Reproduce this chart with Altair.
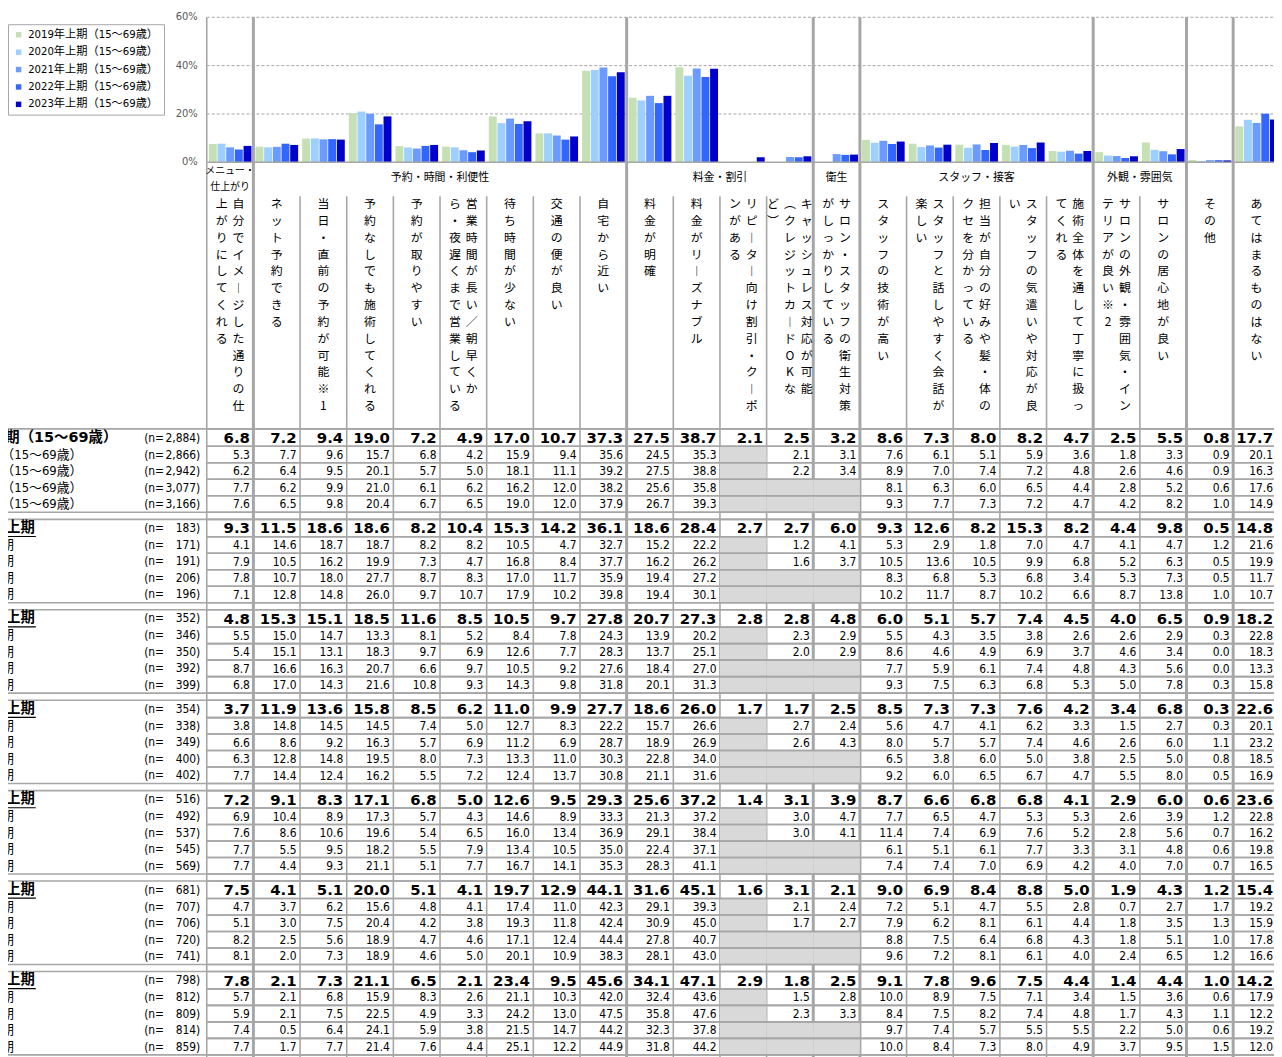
import altair as alt
import pandas as pd

# ---------------- data ----------------
years = ["2019年上期（15～69歳）", "2020年上期（15～69歳）", "2021年上期（15～69歳）",
         "2022年上期（15～69歳）", "2023年上期（15～69歳）"]
bar_colors = ["#c5e0b4", "#9dcfff", "#6b9bff", "#3366ff", "#0000cc"]

cat_lines = [
    ["自分でイメージした通りの仕", "上がりにしてくれる"],
    ["ネット予約できる"],
    ["当日・直前の予約が可能※1"],
    ["予約なしでも施術してくれる"],
    ["予約が取りやすい"],
    ["営業時間が長い／朝早くか", "ら・夜遅くまで営業している"],
    ["待ち時間が少ない"],
    ["交通の便が良い"],
    ["自宅から近い"],
    ["料金が明確"],
    ["料金がリーズナブル"],
    ["リピーター向け割引・クーポ", "ンがある"],
    ["キャッシュレス対応が可能", "（クレジットカードOKな", "ど）"],
    ["サロン・スタッフの衛生対策", "がしっかりしている"],
    ["スタッフの技術が高い"],
    ["スタッフと話しやすく会話が", "楽しい"],
    ["担当が自分の好みや髪・体の", "クセを分かっている"],
    ["スタッフの気遣いや対応が良", "い"],
    ["施術全体を通して丁寧に扱っ", "てくれる"],
    ["サロンの外観・雰囲気・イン", "テリアが良い※2"],
    ["サロンの居心地が良い"],
    ["その他"],
    ["あてはまるものはない"],
]

group_labels = [["メニュー・", "仕上がり"], ["予約・時間・利便性"], ["料金・割引"], ["衛生"],
                ["スタッフ・接客"], ["外観・雰囲気"]]
group_start = [0, 1, 9, 13, 14, 19]
group_end = [1, 9, 13, 14, 19, 21]
group_seps = [1, 9, 13, 14, 19, 21, 22]

age_labels = ["", "15～19歳", "20～29歳", "30～39歳", "40～49歳", "50～59歳", "60～69歳"]
row_years = [2023, 2022, 2021, 2020, 2019]
n_values = [
    [2884, 2866, 2942, 3077, 3166],
    [183, 171, 191, 206, 196],
    [352, 346, 350, 392, 399],
    [354, 338, 349, 400, 402],
    [516, 492, 537, 545, 569],
    [681, 707, 706, 720, 741],
    [798, 812, 809, 814, 859],
]
N = None
blocks = [
    [
        [6.8, 7.2, 9.4, 19.0, 7.2, 4.9, 17.0, 10.7, 37.3, 27.5, 38.7, 2.1, 2.5, 3.2, 8.6, 7.3, 8.0, 8.2, 4.7, 2.5, 5.5, 0.8, 17.7],
        [5.3, 7.7, 9.6, 15.7, 6.8, 4.2, 15.9, 9.4, 35.6, 24.5, 35.3, N, 2.1, 3.1, 7.6, 6.1, 5.1, 5.9, 3.6, 1.8, 3.3, 0.9, 20.1],
        [6.2, 6.4, 9.5, 20.1, 5.7, 5.0, 18.1, 11.1, 39.2, 27.5, 38.8, N, 2.2, 3.4, 8.9, 7.0, 7.4, 7.2, 4.8, 2.6, 4.6, 0.9, 16.3],
        [7.7, 6.2, 9.9, 21.0, 6.1, 6.2, 16.2, 12.0, 38.2, 25.6, 35.8, N, N, N, 8.1, 6.3, 6.0, 6.5, 4.4, 2.8, 5.2, 0.6, 17.6],
        [7.6, 6.5, 9.8, 20.4, 6.7, 6.5, 19.0, 12.0, 37.9, 26.7, 39.3, N, N, N, 9.3, 7.7, 7.3, 7.2, 4.7, 4.2, 8.2, 1.0, 14.9],
    ],
    [
        [9.3, 11.5, 18.6, 18.6, 8.2, 10.4, 15.3, 14.2, 36.1, 18.6, 28.4, 2.7, 2.7, 6.0, 9.3, 12.6, 8.2, 15.3, 8.2, 4.4, 9.8, 0.5, 14.8],
        [4.1, 14.6, 18.7, 18.7, 8.2, 8.2, 10.5, 4.7, 32.7, 15.2, 22.2, N, 1.2, 4.1, 5.3, 2.9, 1.8, 7.0, 4.7, 4.1, 4.7, 1.2, 21.6],
        [7.9, 10.5, 16.2, 19.9, 7.3, 4.7, 16.8, 8.4, 37.7, 16.2, 26.2, N, 1.6, 3.7, 10.5, 13.6, 10.5, 9.9, 6.8, 5.2, 6.3, 0.5, 19.9],
        [7.8, 10.7, 18.0, 27.7, 8.7, 8.3, 17.0, 11.7, 35.9, 19.4, 27.2, N, N, N, 8.3, 6.8, 5.3, 6.8, 3.4, 5.3, 7.3, 0.5, 11.7],
        [7.1, 12.8, 14.8, 26.0, 9.7, 10.7, 17.9, 10.2, 39.8, 19.4, 30.1, N, N, N, 10.2, 11.7, 8.7, 10.2, 6.6, 8.7, 13.8, 1.0, 10.7],
    ],
    [
        [4.8, 15.3, 15.1, 18.5, 11.6, 8.5, 10.5, 9.7, 27.8, 20.7, 27.3, 2.8, 2.8, 4.8, 6.0, 5.1, 5.7, 7.4, 4.5, 4.0, 6.5, 0.9, 18.2],
        [5.5, 15.0, 14.7, 13.3, 8.1, 5.2, 8.4, 7.8, 24.3, 13.9, 20.2, N, 2.3, 2.9, 5.5, 4.3, 3.5, 3.8, 2.6, 2.6, 2.9, 0.3, 22.8],
        [5.4, 15.1, 13.1, 18.3, 9.7, 6.9, 12.6, 7.7, 28.3, 13.7, 25.1, N, 2.0, 2.9, 8.6, 4.6, 4.9, 6.9, 3.7, 4.6, 3.4, 0.0, 18.3],
        [8.7, 16.6, 16.3, 20.7, 6.6, 9.7, 10.5, 9.2, 27.6, 18.4, 27.0, N, N, N, 7.7, 5.9, 6.1, 7.4, 4.8, 4.3, 5.6, 0.0, 13.3],
        [6.8, 17.0, 14.3, 21.6, 10.8, 9.3, 14.3, 9.8, 31.8, 20.1, 31.3, N, N, N, 9.3, 7.5, 6.3, 6.8, 5.3, 5.0, 7.8, 0.3, 15.8],
    ],
    [
        [3.7, 11.9, 13.6, 15.8, 8.5, 6.2, 11.0, 9.9, 27.7, 18.6, 26.0, 1.7, 1.7, 2.5, 8.5, 7.3, 7.3, 7.6, 4.2, 3.4, 6.8, 0.3, 22.6],
        [3.8, 14.8, 14.5, 14.5, 7.4, 5.0, 12.7, 8.3, 22.2, 15.7, 26.6, N, 2.7, 2.4, 5.6, 4.7, 4.1, 6.2, 3.3, 1.5, 2.7, 0.3, 20.1],
        [6.6, 8.6, 9.2, 16.3, 5.7, 6.9, 11.2, 6.9, 28.7, 18.9, 26.9, N, 2.6, 4.3, 8.0, 5.7, 5.7, 7.4, 4.6, 2.6, 6.0, 1.1, 23.2],
        [6.3, 12.8, 14.8, 19.5, 8.0, 7.3, 13.3, 11.0, 30.3, 22.8, 34.0, N, N, N, 6.5, 3.8, 6.0, 5.0, 3.8, 2.5, 5.0, 0.8, 18.5],
        [7.7, 14.4, 12.4, 16.2, 5.5, 7.2, 12.4, 13.7, 30.8, 21.1, 31.6, N, N, N, 9.2, 6.0, 6.5, 6.7, 4.7, 5.5, 8.0, 0.5, 16.9],
    ],
    [
        [7.2, 9.1, 8.3, 17.1, 6.8, 5.0, 12.6, 9.5, 29.3, 25.6, 37.2, 1.4, 3.1, 3.9, 8.7, 6.6, 6.8, 6.8, 4.1, 2.9, 6.0, 0.6, 23.6],
        [6.9, 10.4, 8.9, 17.3, 5.7, 4.3, 14.6, 8.9, 33.3, 21.3, 37.2, N, 3.0, 4.7, 7.7, 6.5, 4.7, 5.3, 5.3, 2.6, 3.9, 1.2, 22.8],
        [7.6, 8.6, 10.6, 19.6, 5.4, 6.5, 16.0, 13.4, 36.9, 29.1, 38.4, N, 3.0, 4.1, 11.4, 7.4, 6.9, 7.6, 5.2, 2.8, 5.6, 0.7, 16.2],
        [7.7, 5.5, 9.5, 18.2, 5.5, 7.9, 13.4, 10.5, 35.0, 22.4, 37.1, N, N, N, 6.1, 5.1, 6.1, 7.7, 3.3, 3.1, 4.8, 0.6, 19.8],
        [7.7, 4.4, 9.3, 21.1, 5.1, 7.7, 16.7, 14.1, 35.3, 28.3, 41.1, N, N, N, 7.4, 7.4, 7.0, 6.9, 4.2, 4.0, 7.0, 0.7, 16.5],
    ],
    [
        [7.5, 4.1, 5.1, 20.0, 5.1, 4.1, 19.7, 12.9, 44.1, 31.6, 45.1, 1.6, 3.1, 2.1, 9.0, 6.9, 8.4, 8.8, 5.0, 1.9, 4.3, 1.2, 15.4],
        [4.7, 3.7, 6.2, 15.6, 4.8, 4.1, 17.4, 11.0, 42.3, 29.1, 39.3, N, 2.1, 2.4, 7.2, 5.1, 4.7, 5.5, 2.8, 0.7, 2.7, 1.7, 19.2],
        [5.1, 3.0, 7.5, 20.4, 4.2, 3.8, 19.3, 11.8, 42.4, 30.9, 45.0, N, 1.7, 2.7, 7.9, 6.2, 8.1, 6.1, 4.4, 1.8, 3.5, 1.3, 15.9],
        [8.2, 2.5, 5.6, 18.9, 4.7, 4.6, 17.1, 12.4, 44.4, 27.8, 40.7, N, N, N, 8.8, 7.5, 6.4, 6.8, 4.3, 1.8, 5.1, 1.0, 17.8],
        [8.1, 2.0, 7.3, 18.9, 4.6, 5.0, 20.1, 10.9, 38.3, 28.1, 43.0, N, N, N, 9.6, 7.2, 8.1, 6.1, 4.0, 2.4, 6.5, 1.2, 16.6],
    ],
    [
        [7.8, 2.1, 7.3, 21.1, 6.5, 2.1, 23.4, 9.5, 45.6, 34.1, 47.1, 2.9, 1.8, 2.5, 9.1, 7.8, 9.6, 7.5, 4.4, 1.4, 4.4, 1.0, 14.2],
        [5.7, 2.1, 6.8, 15.9, 8.3, 2.6, 21.1, 10.3, 42.0, 32.4, 43.6, N, 1.5, 2.8, 10.0, 8.9, 7.5, 7.1, 3.4, 1.5, 3.6, 0.6, 17.9],
        [5.9, 2.1, 7.5, 22.5, 4.9, 3.3, 24.2, 13.0, 47.5, 35.8, 47.6, N, 2.3, 3.3, 8.4, 7.5, 8.2, 7.4, 4.8, 1.7, 4.3, 1.1, 12.2],
        [7.4, 0.5, 6.4, 24.1, 5.9, 3.8, 21.5, 14.7, 44.2, 32.3, 37.8, N, N, N, 9.7, 7.4, 5.7, 5.5, 5.5, 2.2, 5.0, 0.6, 19.2],
        [7.7, 1.7, 7.7, 21.4, 7.6, 4.4, 25.1, 12.2, 44.9, 31.8, 44.2, N, N, N, 10.0, 8.4, 7.3, 8.0, 4.9, 3.7, 9.5, 1.5, 12.0],
    ],
]
y_ticks = [0, 20, 40, 60]

# ---------------- layout ----------------
W, H = 1274, 1049
CW = 46.95
NC = len(cat_lines)


def U(px):
    return (px - 208.0) / CW


XS = alt.Scale(domain=[U(8), U(8 + W)], nice=False, zero=False)
PY = alt.Scale(domain=[8, 8 + H], range=[0, H], nice=False, zero=False)
PCT = alt.Scale(domain=[0, 60], range=[152, 6], nice=False, zero=False)

F_NUM = "DejaVu Sans Condensed, DejaVu Sans, Noto Sans CJK JP"
F_NUMB = "DejaVu Sans, Noto Sans CJK JP"
F_JP = "Noto Sans CJK JP"
LINE = "#a6a6a6"
X_LIMIT = U(1281)  # keep right-most values inside the visible page


def X(f):
    return alt.X(f"{f}:Q", scale=XS, axis=None)


def YL(f):
    return alt.Y(f"{f}:Q", scale=PY, axis=None)


def YP(f):
    return alt.Y(f"{f}:Q", scale=PCT, axis=None)


layers = []

# grid lines
grid = pd.DataFrame({"v": [20, 40, 60], "x0": 0, "x1": NC})
layers.append(alt.Chart(grid).mark_rule(color=LINE, strokeDash=[3, 2], strokeWidth=1)
              .encode(x=X("x0"), x2="x1", y=YP("v")))

# bars
brows = []
for ci in range(NC):
    for si in range(5):
        v = blocks[0][4 - si][ci]
        if v is None:
            continue
        x = ci + 0.045 + si * 0.186
        brows.append({"x": x, "x1": x + 0.17, "v": v, "zero": 0, "year": years[si]})
bars = pd.DataFrame(brows)
layers.append(alt.Chart(bars).mark_bar().encode(
    x=X("x"), x2="x1", y=YP("v"), y2="zero",
    color=alt.Color("year:N", scale=alt.Scale(domain=years, range=bar_colors),
                    legend=alt.Legend(title=None, orient="none", legendX=0, legendY=13,
                                      symbolType="square", symbolSize=30, symbolStrokeWidth=0,
                                      labelFontSize=11.3, labelFont=F_NUM, labelColor="#000",
                                      rowPadding=5.5, padding=5, strokeColor=LINE,
                                      fillColor="white", labelLimit=400, labelOffset=4))))

# zero axis line
zl = pd.DataFrame({"v": [0], "x0": 0, "x1": NC})
layers.append(alt.Chart(zl).mark_rule(color=LINE, strokeWidth=1.5)
              .encode(x=X("x0"), x2="x1", y=YP("v")))

# y tick labels
yt = pd.DataFrame({"v": y_ticks, "t": [f"{v}%" for v in y_ticks], "x": U(199)})
layers.append(alt.Chart(yt).mark_text(align="right", baseline="middle", fontSize=10,
                                      font=F_NUMB, color="#595959")
              .encode(x=X("x"), y=YP("v"), text="t:N"))

# vertical separators
gs = pd.DataFrame({"x": group_seps, "y0": 14, "y1": 1070})
layers.append(alt.Chart(gs).mark_rule(color=LINE, strokeWidth=3)
              .encode(x=X("x"), y=YL("y0"), y2="y1"))
ls = pd.DataFrame({"x": [0], "y0": 14, "y1": 1070})
layers.append(alt.Chart(ls).mark_rule(color=LINE, strokeWidth=1.6)
              .encode(x=X("x"), y=YL("y0"), y2="y1"))
inner = [i for i in range(1, NC) if i not in group_seps]
ins = pd.DataFrame({"x": inner, "y0": 194, "y1": 1070})
layers.append(alt.Chart(ins).mark_rule(color=LINE, strokeWidth=1.6)
              .encode(x=X("x"), y=YL("y0"), y2="y1"))

# group labels
glr, glr2 = [], []
for lab, a, b in zip(group_labels, group_start, group_end):
    if len(lab) == 1:
        glr.append({"x": (a + b) / 2, "y": 176, "t": lab[0]})
    else:
        for k, s in enumerate(lab):
            glr2.append({"x": (a + b) / 2, "y": 169 + 16 * k, "t": s})
layers.append(alt.Chart(pd.DataFrame(glr)).mark_text(fontSize=11, font=F_JP, color="#000",
                                                     baseline="middle", align="center")
              .encode(x=X("x"), y=YL("y"), text="t:N"))
layers.append(alt.Chart(pd.DataFrame(glr2)).mark_text(fontSize=10, font=F_JP, color="#000",
                                                      baseline="middle", align="center")
              .encode(x=X("x"), y=YL("y"), text="t:N"))

# vertical category text
vmap = {"ー": "︱", "（": "︵", "）": "︶"}
vrows = []
step = 17.0 / CW
for ci, lines in enumerate(cat_lines):
    n = len(lines)
    for li, line in enumerate(lines):
        xo = ((n - 1) / 2 - li) * step
        for k, ch in enumerate(line):
            vrows.append({"x": ci + 0.5 + xo, "y": 202 + 16.95 * k, "t": vmap.get(ch, ch)})
layers.append(alt.Chart(pd.DataFrame(vrows)).mark_text(fontSize=12, font=F_JP, color="#000",
                                                       baseline="middle", align="center")
              .encode(x=X("x"), y=YL("y"), text="t:N"))

# ---------------- table ----------------
BOLD_H, ROW_H, PERIOD = 17.5, 16.6, 91.0
T0 = 428.25
row_info = []
for b in range(len(blocks)):
    t = T0 + PERIOD * b
    row_info.append((b, 0, t, t + BOLD_H))
    for r in range(1, 5):
        top = t + BOLD_H + ROW_H * (r - 1)
        row_info.append((b, r, top, top + ROW_H))

grey, vb, vn, lb, ln, npre, nval, hl_val, hl_full, ul = [], [], [], [], [], [], [], [], [], []
for (b, r, top, bot) in row_info:
    c = (top + bot) / 2
    vals = blocks[b][r]
    for ci, v in enumerate(vals):
        if v is None:
            grey.append({"x": ci, "x1": ci + 1, "y": top, "y1": bot})
        else:
            xr = min(ci + 1 - 3.5 / CW, X_LIMIT)
            d = {"x": xr, "y": c + (0.5 if r == 0 else 0.3), "t": f"{v:.1f}"}
            (vb if r == 0 else vn).append(d)
    yr = row_years[r]
    if b == 0:
        lab = f"{yr}年上期（15～69歳）"
        xe = 118 if r == 0 else 83
    else:
        lab = f"{age_labels[b]} {yr}年上期"
        xe = 35 if r == 0 else 14
    (lb if r == 0 else ln).append({"x": U(xe), "y": c, "t": lab})
    if r == 0 and b > 0:
        ul.append({"x0": U(0), "x1": U(36), "y": c + 8.5})
    npre.append({"x": U(145), "y": c, "t": "(n="})
    nval.append({"x": U(201.5), "y": c, "t": f"{n_values[b][r]:,})"})
    hl_val.append({"x0": 0, "x1": NC, "y": top})
    hl_val.append({"x0": 0, "x1": NC, "y": bot})
    if r == 0:
        hl_full.append({"x0": U(0), "x1": NC, "y": top})
    if r == 4:
        hl_full.append({"x0": U(0), "x1": NC, "y": bot})

layers.append(alt.Chart(pd.DataFrame(grey)).mark_rect(color="#d9d9d9")
              .encode(x=X("x"), x2="x1", y=YL("y"), y2="y1"))
layers.append(alt.Chart(pd.DataFrame(hl_val)).mark_rule(color=LINE, strokeWidth=1.6)
              .encode(x=X("x0"), x2="x1", y=YL("y")))
layers.append(alt.Chart(pd.DataFrame(hl_full)).mark_rule(color=LINE, strokeWidth=1.6)
              .encode(x=X("x0"), x2="x1", y=YL("y")))
layers.append(alt.Chart(pd.DataFrame(ul)).mark_rule(color="#000", strokeWidth=1.2)
              .encode(x=X("x0"), x2="x1", y=YL("y")))
layers.append(alt.Chart(pd.DataFrame(vb)).mark_text(align="right", baseline="middle", fontSize=15,
                                                    fontWeight="bold", font=F_NUMB, color="#000")
              .encode(x=X("x"), y=YL("y"), text="t:N"))
layers.append(alt.Chart(pd.DataFrame(vn)).mark_text(align="right", baseline="middle", fontSize=12,
                                                    font=F_NUM, color="#000")
              .encode(x=X("x"), y=YL("y"), text="t:N"))
layers.append(alt.Chart(pd.DataFrame(lb)).mark_text(align="right", baseline="middle", fontSize=14.5,
                                                    fontWeight="bold", font=F_NUMB, color="#000")
              .encode(x=X("x"), y=YL("y"), text="t:N"))
layers.append(alt.Chart(pd.DataFrame(ln)).mark_text(align="right", baseline="middle", fontSize=13,
                                                    font=F_NUM, color="#000")
              .encode(x=X("x"), y=YL("y"), text="t:N"))
layers.append(alt.Chart(pd.DataFrame(npre)).mark_text(align="left", baseline="middle", fontSize=12,
                                                      font=F_NUM, color="#000")
              .encode(x=X("x"), y=YL("y"), text="t:N"))
layers.append(alt.Chart(pd.DataFrame(nval)).mark_text(align="right", baseline="middle", fontSize=12,
                                                      font=F_NUM, color="#000")
              .encode(x=X("x"), y=YL("y"), text="t:N"))

chart = (alt.layer(*layers)
         .resolve_scale(y="independent")
         .properties(width=W, height=H, autosize=alt.AutoSizeParams(type="none"), padding=0,
                     background="white")
         .configure_view(stroke=None))

chart.save("out.html", embed_options={"renderer": "svg", "actions": False})
